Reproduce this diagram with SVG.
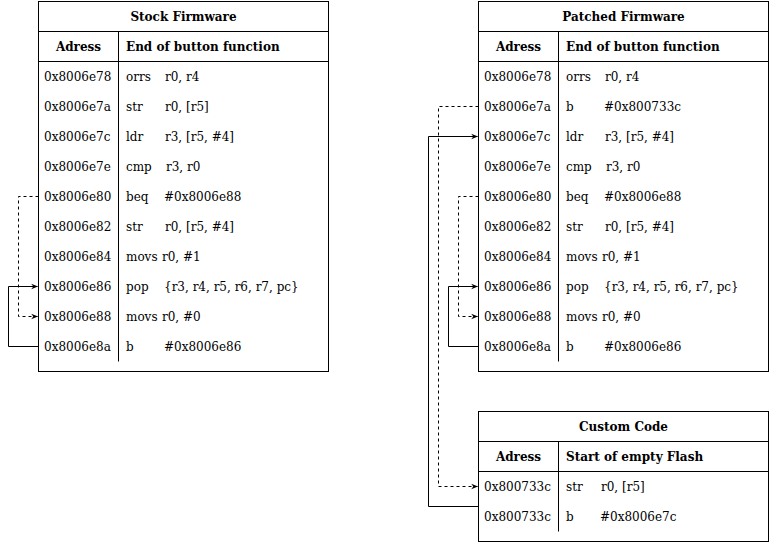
<svg xmlns="http://www.w3.org/2000/svg" width="770" height="543" viewBox="0 0 770 543">
<style>
text{font-family:"DejaVu Serif",serif;font-size:12px;fill:#000}
.b{font-weight:bold}
.box{fill:#fff;stroke:#000;stroke-width:1}
.ln{stroke:#000;stroke-width:1;fill:none}
.c{fill:none;stroke:#000;stroke-width:1}
.d{stroke-dasharray:3 3}
</style>
<defs>
<marker id="a" viewBox="0 0 10 10" refX="9" refY="5" markerWidth="7" markerHeight="7" markerUnits="userSpaceOnUse" orient="auto">
<path d="M0,1 L10,5 L0,9 L3,5 Z" fill="#000"/>
</marker>
</defs>
<rect width="770" height="543" fill="#fff"/>
<g id="stock">
<rect class="box" x="38.5" y="1.5" width="290" height="370"/>
<line class="ln" x1="38.5" y1="31.5" x2="328.5" y2="31.5"/>
<line class="ln" x1="38.5" y1="61.5" x2="328.5" y2="61.5"/>
<line class="ln" x1="118.5" y1="31.5" x2="118.5" y2="361.5"/>
<text class="b" x="183.5" y="21" text-anchor="middle">Stock Firmware</text>
<text class="b" x="78.5" y="51" text-anchor="middle">Adress</text>
<text class="b" x="126" y="51">End of button function</text>
<text x="44" y="81">0x8006e78</text><text x="126" y="81">orrs</text><text x="165" y="81">r0, r4</text>
<text x="44" y="111">0x8006e7a</text><text x="126" y="111">str</text><text x="165" y="111">r0, [r5]</text>
<text x="44" y="141">0x8006e7c</text><text x="126" y="141">ldr</text><text x="165" y="141">r3, [r5, #4]</text>
<text x="44" y="171">0x8006e7e</text><text x="126" y="171">cmp</text><text x="166" y="171">r3, r0</text>
<text x="44" y="201">0x8006e80</text><text x="126" y="201">beq</text><text x="164" y="201">#0x8006e88</text>
<text x="44" y="231">0x8006e82</text><text x="126" y="231">str</text><text x="165" y="231">r0, [r5, #4]</text>
<text x="44" y="261">0x8006e84</text><text x="126" y="261">movs</text><text x="162" y="261">r0, #1</text>
<text x="44" y="291">0x8006e86</text><text x="126" y="291">pop</text><text x="164" y="291">{r3, r4, r5, r6, r7, pc}</text>
<text x="44" y="321">0x8006e88</text><text x="126" y="321">movs</text><text x="162" y="321">r0, #0</text>
<text x="44" y="351">0x8006e8a</text><text x="126" y="351">b</text><text x="164" y="351">#0x8006e86</text>
</g>
<g id="patched">
<rect class="box" x="478.5" y="1.5" width="290" height="370"/>
<line class="ln" x1="478.5" y1="31.5" x2="768.5" y2="31.5"/>
<line class="ln" x1="478.5" y1="61.5" x2="768.5" y2="61.5"/>
<line class="ln" x1="558.5" y1="31.5" x2="558.5" y2="361.5"/>
<text class="b" x="623.5" y="21" text-anchor="middle">Patched Firmware</text>
<text class="b" x="518.5" y="51" text-anchor="middle">Adress</text>
<text class="b" x="566" y="51">End of button function</text>
<text x="484" y="81">0x8006e78</text><text x="566" y="81">orrs</text><text x="605" y="81">r0, r4</text>
<text x="484" y="111">0x8006e7a</text><text x="566" y="111">b</text><text x="604" y="111">#0x800733c</text>
<text x="484" y="141">0x8006e7c</text><text x="566" y="141">ldr</text><text x="605" y="141">r3, [r5, #4]</text>
<text x="484" y="171">0x8006e7e</text><text x="566" y="171">cmp</text><text x="606" y="171">r3, r0</text>
<text x="484" y="201">0x8006e80</text><text x="566" y="201">beq</text><text x="604" y="201">#0x8006e88</text>
<text x="484" y="231">0x8006e82</text><text x="566" y="231">str</text><text x="605" y="231">r0, [r5, #4]</text>
<text x="484" y="261">0x8006e84</text><text x="566" y="261">movs</text><text x="602" y="261">r0, #1</text>
<text x="484" y="291">0x8006e86</text><text x="566" y="291">pop</text><text x="604" y="291">{r3, r4, r5, r6, r7, pc}</text>
<text x="484" y="321">0x8006e88</text><text x="566" y="321">movs</text><text x="602" y="321">r0, #0</text>
<text x="484" y="351">0x8006e8a</text><text x="566" y="351">b</text><text x="604" y="351">#0x8006e86</text>
</g>
<g id="custom">
<rect class="box" x="478.5" y="411.5" width="290" height="130"/>
<line class="ln" x1="478.5" y1="441.5" x2="768.5" y2="441.5"/>
<line class="ln" x1="478.5" y1="471.5" x2="768.5" y2="471.5"/>
<line class="ln" x1="558.5" y1="441.5" x2="558.5" y2="531.5"/>
<text class="b" x="623.5" y="431" text-anchor="middle">Custom Code</text>
<text class="b" x="518.5" y="461" text-anchor="middle">Adress</text>
<text class="b" x="566" y="461">Start of empty Flash</text>
<text x="484" y="491">0x800733c</text><text x="566" y="491">str</text><text x="601" y="491">r0, [r5]</text>
<text x="484" y="521">0x800733c</text><text x="566" y="521">b</text><text x="600" y="521">#0x8006e7c</text>
</g>
<g id="connectors">
<path class="c d" d="M38.5,196.5 H18.5 V316.5 H37.5" marker-end="url(#a)"/>
<path class="c" d="M38.5,346.5 H8.5 V286.5 H37.5" marker-end="url(#a)"/>
<path class="c d" d="M478.5,106.5 H438.5 V486.5 H477.5" marker-end="url(#a)"/>
<path class="c" d="M478.5,506.5 H428.5 V136.5 H477.5" marker-end="url(#a)"/>
<path class="c d" d="M478.5,196.5 H458.5 V316.5 H477.5" marker-end="url(#a)"/>
<path class="c" d="M478.5,346.5 H448.5 V286.5 H477.5" marker-end="url(#a)"/>
</g>
</svg>
